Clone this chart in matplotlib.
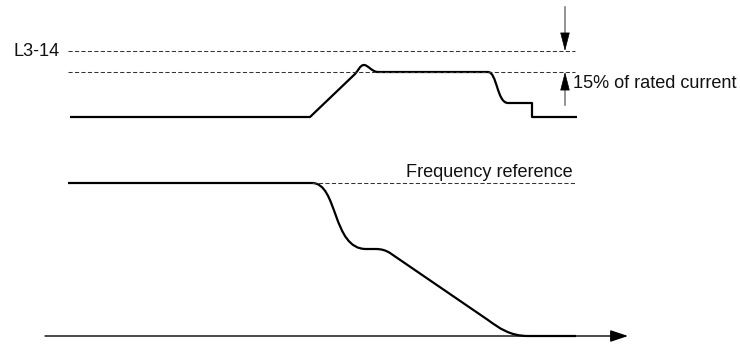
import matplotlib
matplotlib.use("Agg")
import matplotlib.pyplot as plt
from matplotlib.path import Path
from matplotlib.patches import PathPatch

plt.rcParams['font.family'] = ['Liberation Sans', 'DejaVu Sans']

# ---- data (diagram units: x = time, y = level, measured downward) ----
# output current waveform (vertices of a Bezier path)
current_x = [70, 310, 355, 358, 360, 364, 368, 372, 378, 488, 497, 497, 508, 532, 532, 577]
current_y = [117, 117, 74, 71, 65, 65, 65, 72, 72, 72, 72, 103, 103, 103, 117, 117]
current_codes = ['M', 'L', 'L', 'C', 'C', 'C', 'C', 'C', 'C', 'L', 'C', 'C', 'C', 'L', 'L', 'L']

# output frequency waveform
freq_x = [68, 312, 338, 332, 366, 376, 384, 390, 488, 499, 510, 528, 576]
freq_y = [183, 183, 183, 249, 249, 249, 249, 253, 320, 328, 336, 336, 336]
freq_codes = ['M', 'L', 'C', 'C', 'C', 'L', 'Q', 'Q', 'L', 'C', 'C', 'C', 'L']

# reference levels
l3_14_level = 51
stall_level = 72
freq_ref_level = 183
ref_x_start = 68
ref_x_end = 575
freq_ref_x_start = 312

# time axis
axis_y = 336
axis_x_start = 45
axis_x_end = 628

# 15 % marker
marker_x = 565
marker_top = 7
marker_bottom = 105

labels = {
    'l3': 'L3-14',
    'pct': '15% of rated current',
    'fref': 'Frequency reference',
}

# ---- drawing ----
code_map = {'M': Path.MOVETO, 'L': Path.LINETO, 'C': Path.CURVE4, 'Q': Path.CURVE3}

fig = plt.figure(figsize=(7.4, 3.45), dpi=100)
ax = fig.add_axes([0, 0, 1, 1])
ax.set_xlim(0, 740)
ax.set_ylim(345, 0)
ax.axis('off')

dash_kw = dict(color='#333333', lw=0.75, dashes=(4, 2.2))
ax.plot([ref_x_start, ref_x_end], [l3_14_level, l3_14_level], **dash_kw)
ax.plot([ref_x_start, ref_x_end], [stall_level, stall_level], **dash_kw)
ax.plot([freq_ref_x_start, ref_x_end], [freq_ref_level, freq_ref_level], **dash_kw)

for xs, ys, cs in [(current_x, current_y, current_codes), (freq_x, freq_y, freq_codes)]:
    path = Path(list(zip(xs, ys)), [code_map[c] for c in cs])
    ax.add_patch(PathPatch(path, fill=False, lw=1.6, edgecolor='black',
                           capstyle='butt', joinstyle='round'))

# time axis with arrow
ax.annotate('', xy=(axis_x_end, axis_y), xytext=(axis_x_start, axis_y),
            arrowprops=dict(arrowstyle='-|>,head_length=1.08,head_width=0.36',
                            mutation_scale=10, color='black', lw=1,
                            shrinkA=0, shrinkB=0))

# 15 % marker arrows
head = 16.5
ax.plot([marker_x, marker_x], [marker_top, l3_14_level - head + 1], color='#777777', lw=1.1)
ax.annotate('', xy=(marker_x, l3_14_level), xytext=(marker_x, l3_14_level - head),
            arrowprops=dict(arrowstyle='-|>,head_length=1.2,head_width=0.31',
                            mutation_scale=10, color='black', lw=0.5,
                            shrinkA=0, shrinkB=0))
ax.plot([marker_x, marker_x], [marker_bottom, stall_level + head - 1], color='#777777', lw=1.1)
ax.annotate('', xy=(marker_x, stall_level), xytext=(marker_x, stall_level + head),
            arrowprops=dict(arrowstyle='-|>,head_length=1.2,head_width=0.31',
                            mutation_scale=10, color='black', lw=0.5,
                            shrinkA=0, shrinkB=0))

fs = 13.1
ax.text(60, 56, labels['l3'], ha='right', va='baseline', fontsize=fs, color='#111111')
ax.text(573, 88, labels['pct'], ha='left', va='baseline', fontsize=fs, color='#111111')
ax.text(573, 177, labels['fref'], ha='right', va='baseline', fontsize=fs, color='#111111')

fig.savefig('out.png', dpi=100)
